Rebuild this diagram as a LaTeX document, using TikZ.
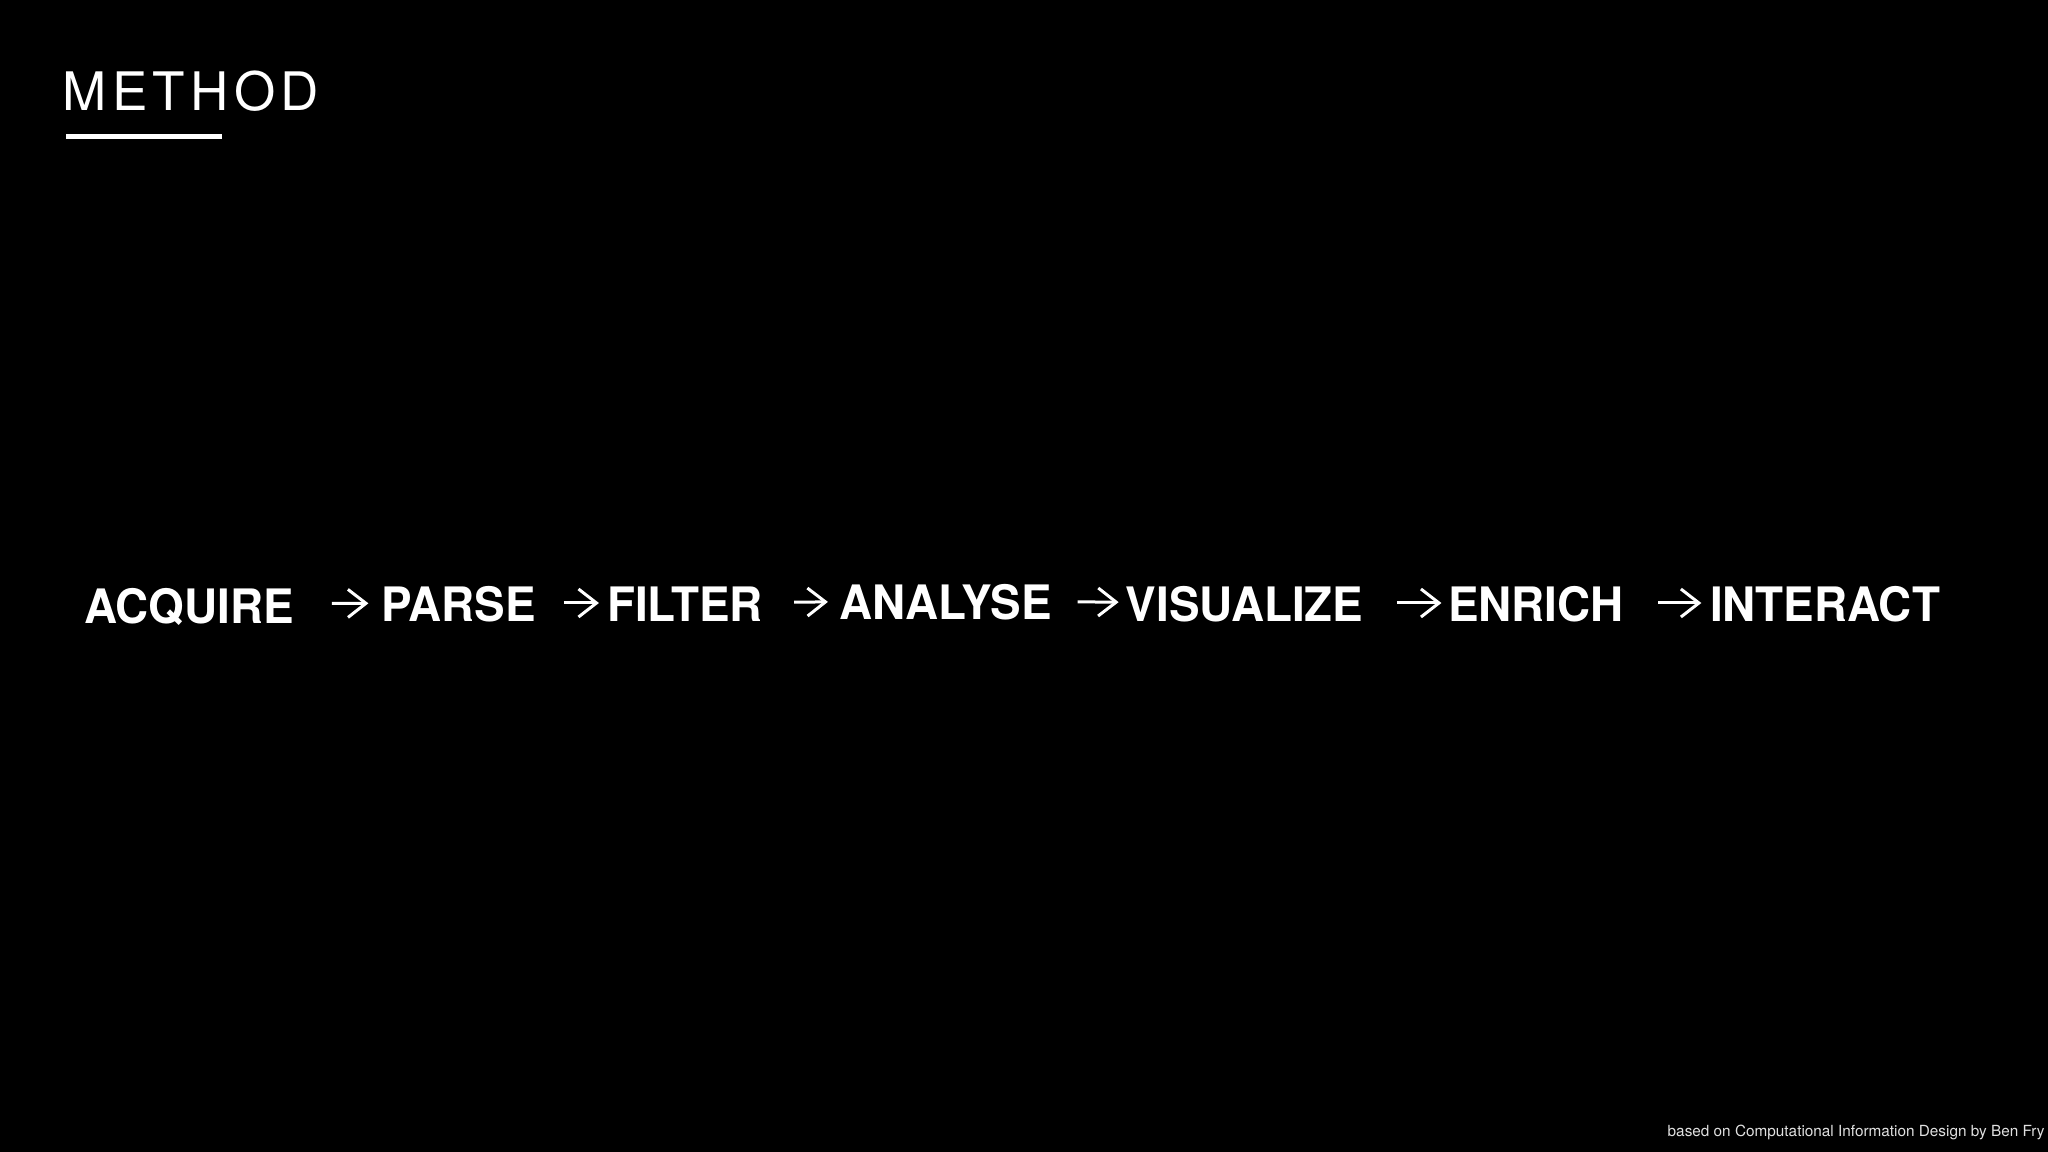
\documentclass[tikz,border=0pt]{standalone}
\usepackage{fontspec}
\usepackage{tikz}
\usetikzlibrary{arrows.meta}

\setmainfont{TeX Gyre Heros}
\newfontface\stepfont{texgyreheros-bold.otf}[FakeStretch=0.965]
\newfontface\titlefont{texgyreheros-regular.otf}[LetterSpace=10]
\newfontface\notefont{texgyreheros-regular.otf}

\begin{document}
\begin{tikzpicture}[
  stepnode/.style={text=white, inner sep=0pt, anchor=base, text height=0.38cm, text depth=0cm,
    font=\stepfont\fontsize{13.5}{16}\selectfont},
  titlenode/.style={text=white, inner sep=0pt, anchor=base west,
    font=\titlefont\fontsize{15.1}{18}\selectfont},
  notenode/.style={text=white!88!black, inner sep=0pt, anchor=base west,
    font=\notefont\fontsize{4.36}{5}\selectfont},
  flow/.style={draw=white, line width=0.03cm, -{Straight Barb[length=0.18cm,width=0.28cm]}}
]

\fill[black] (0,0) rectangle (20.48,-11.52);
\useasboundingbox (0,0) rectangle (20.48,-11.52);

\node[titlenode] (method) at (0.62,-1.11) {METHOD};
\fill[white] (0.66,-1.34) rectangle (2.22,-1.39);

\node[stepnode] (acquire) at (1.89,-6.23) {ACQUIRE};
\node[stepnode] (parse) at (4.585,-6.22) {PARSE};
\node[stepnode] (filter) at (6.85,-6.22) {FILTER};
\node[stepnode] (analyse) at (9.455,-6.20) {ANALYSE};
\node[stepnode] (visualize) at (12.445,-6.22) {VISUALIZE};
\node[stepnode] (enrich) at (15.36,-6.22) {ENRICH};
\node[stepnode] (interact) at (18.25,-6.22) {INTERACT};

\node[notenode] (credit) at (16.67,-11.36) {based on Computational Information Design by Ben Fry};

\draw[flow, shorten <=0.375cm, shorten >=0.12cm] (acquire) -- (parse);
\draw[flow, shorten <=0.274cm, shorten >=0.074cm] (parse) -- (filter);
\draw[flow, shorten <=0.304cm, shorten >=0.108cm] (filter) -- (analyse);
\draw[flow, shorten <=0.253cm, shorten >=0.064cm] (analyse) -- (visualize);
\draw[flow, shorten <=0.329cm, shorten >=0.06cm] (visualize) -- (enrich);
\draw[flow, shorten <=0.335cm, shorten >=0.08cm] (enrich) -- (interact);

\end{tikzpicture}
\end{document}
